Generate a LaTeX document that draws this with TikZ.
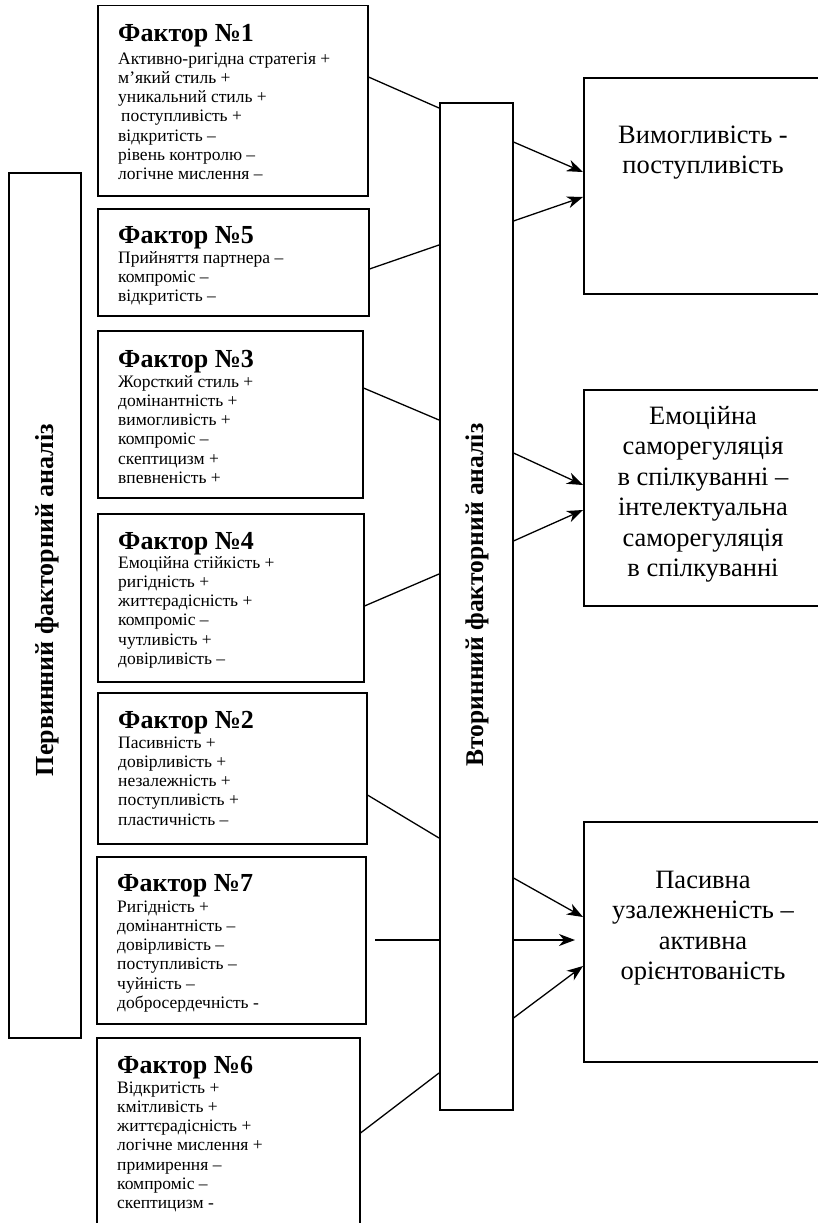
\documentclass[tikz,border=0pt]{standalone}
\usepackage{fontspec}
\setmainfont{Liberation Serif}
\usetikzlibrary{arrows.meta}
\begin{document}
\begin{tikzpicture}[x=1pt,y=-1pt,
  box/.style={draw, line width=1.5pt, inner sep=0pt, anchor=north west},
  conn/.style={line width=1.3pt},
  arr/.style={line width=1.3pt, -{Stealth[length=16pt,width=12pt,inset=5pt]}},
  ttl/.style={anchor=base west, inner sep=0pt, font=\fontsize{26}{30}\selectfont\bfseries},
  body/.style={anchor=base west, inner sep=0pt, font=\fontsize{17.5}{19.3}\selectfont},
  big/.style={anchor=base, inner sep=0pt, font=\fontsize{26.5}{30.5}\selectfont},
  vlab/.style={rotate=90, anchor=base, inner sep=0pt, font=\fontsize{26}{30}\selectfont\bfseries}]
\useasboundingbox (0,0) rectangle (818,1223);
\clip (0,0) rectangle (818,1223);

% left and middle columns
\node[box, minimum width=72pt, minimum height=865pt] (left) at (8,172) {};
\node[vlab] (leftlab) at (53,600) {Первинний факторний аналіз};
\node[box, minimum width=73pt, minimum height=1007pt] (mid) at (439,102) {};
\node[vlab, font=\fontsize{25.5}{30}\selectfont\bfseries] (midlab) at (483,595) {Вторинний факторний аналіз};

% factor boxes
\node[box, minimum width=270pt, minimum height=190pt] (f1) at (97,5) {};
\node[ttl] (f1t) at (118,42) {Фактор №1};
\node[body] (f1b) at (118,64) {\parbox[t]{240pt}{Активно-ригідна стратегія +\\м’який стиль +\\уникальний стиль +\\\hspace*{3pt}поступливість +\\відкритість –\\рівень контролю –\\логічне мислення –}};

\node[box, minimum width=271pt, minimum height=107pt] (f5) at (97,208) {};
\node[ttl] (f5t) at (118,243) {Фактор №5};
\node[body] (f5b) at (118,263) {\parbox[t]{240pt}{Прийняття партнера –\\компроміс –\\відкритість –}};

\node[box, minimum width=265pt, minimum height=167pt] (f3) at (97,330) {};
\node[ttl] (f3t) at (118,367) {Фактор №3};
\node[body] (f3b) at (118,387) {\parbox[t]{240pt}{Жорсткий стиль +\\домінантність +\\вимогливість +\\компроміс –\\скептицизм +\\впевненість +}};

\node[box, minimum width=266pt, minimum height=168pt] (f4) at (97,513) {};
\node[ttl] (f4t) at (118,549) {Фактор №4};
\node[body] (f4b) at (118,568) {\parbox[t]{240pt}{Емоційна стійкість +\\ригідність +\\життєрадісність +\\компроміс –\\чутливість +\\довірливість –}};

\node[box, minimum width=269pt, minimum height=151pt] (f2) at (97,692) {};
\node[ttl] (f2t) at (118,728) {Фактор №2};
\node[body] (f2b) at (118,748) {\parbox[t]{240pt}{Пасивність +\\довірливість +\\незалежність +\\поступливість +\\пластичність –}};

\node[box, minimum width=269pt, minimum height=167pt] (f7) at (96,856) {};
\node[ttl] (f7t) at (117,891) {Фактор №7};
\node[body] (f7b) at (117,912) {\parbox[t]{240pt}{Ригідність +\\домінантність –\\довірливість –\\поступливість –\\чуйність –\\добросердечність -}};

\node[box, minimum width=263pt, minimum height=220pt] (f6) at (96,1037) {};
\node[ttl] (f6t) at (117,1073) {Фактор №6};
\node[body] (f6b) at (117,1093) {\parbox[t]{240pt}{Відкритість +\\кмітливість +\\життєрадісність +\\логічне мислення +\\примирення –\\компроміс –\\скептицизм -}};

% result boxes
\node[box, minimum width=240pt, minimum height=216pt] (r1) at (583,77) {};
\node[big] (r1t) at (703,143) {\parbox[t]{230pt}{\centering Вимогливість -\\поступливість}};
\node[box, minimum width=240pt, minimum height=216pt] (r2) at (583,389) {};
\node[big] (r2t) at (703,424) {\parbox[t]{230pt}{\centering Емоційна\\саморегуляція\\в спілкуванні –\\інтелектуальна\\саморегуляція\\в спілкуванні}};
\node[box, minimum width=240pt, minimum height=240pt] (r3) at (583,821) {};
\node[big] (r3t) at (703,888) {\parbox[t]{230pt}{\centering Пасивна\\узалежненість –\\активна\\орієнтованість}};

% connectors factor -> middle
\draw[conn] (f1.east |- 0,77) -- (mid.west |- 0,108);
\draw[conn] (f5.east |- 0,269) -- (mid.west |- 0,245);
\draw[conn] (f3.east |- 0,388) -- (mid.west |- 0,420);
\draw[conn] (f4.east |- 0,606) -- (mid.west |- 0,574);
\draw[conn] (f2.east |- 0,795) -- (mid.west |- 0,838);
\coordinate (f7out) at (375,940);
\draw[conn] (f7out) -- (mid.west |- 0,940);
\draw[conn] (f6.east |- 0,1133) -- (mid.west |- 0,1073);

% arrows middle -> results
\draw[arr] (mid.east |- 0,142) -- (r1.west |- 0,172);
\draw[arr] (mid.east |- 0,221) -- (r1.west |- 0,197);
\draw[arr] (mid.east |- 0,453) -- (r2.west |- 0,485);
\draw[arr] (mid.east |- 0,541) -- (r2.west |- 0,510);
\draw[arr] (mid.east |- 0,878) -- (r3.west |- 0,917);
\coordinate (a7end) at (575,940);
\draw[arr] (mid.east |- 0,940) -- (a7end);
\draw[arr] (mid.east |- 0,1018) -- (r3.west |- 0,966);
\end{tikzpicture}
\end{document}
